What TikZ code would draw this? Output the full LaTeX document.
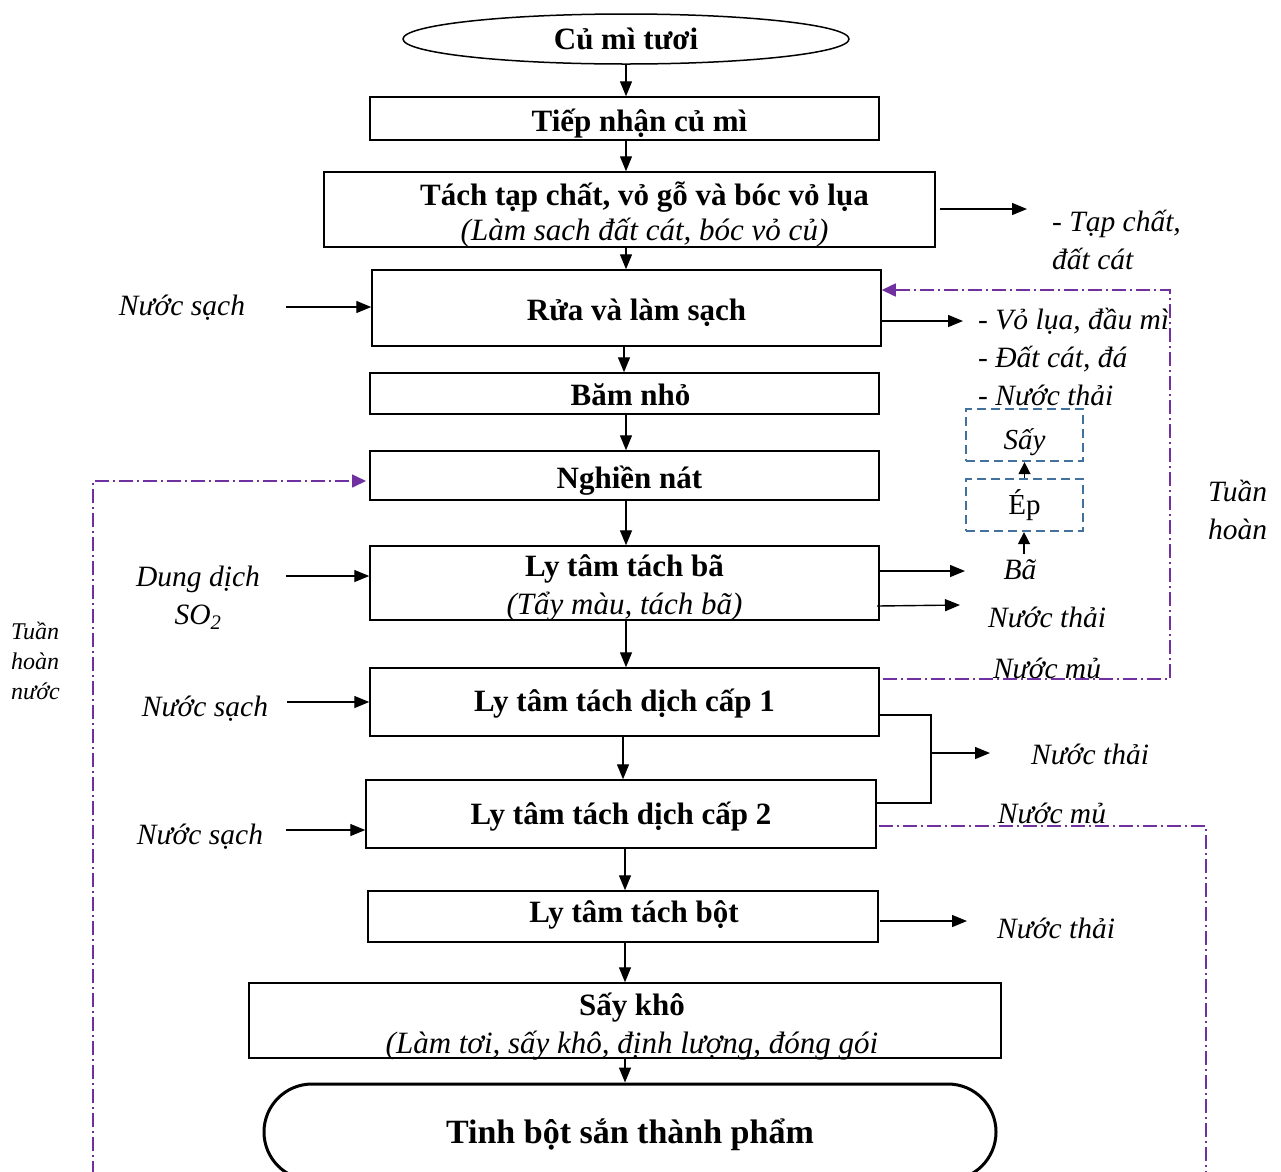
\documentclass[tikz,border=0pt]{standalone}
\usepackage{fontspec}
\setmainfont{Liberation Serif}
\usetikzlibrary{arrows.meta,shapes.geometric,calc}
\definecolor{vio}{RGB}{112,48,160}
\definecolor{dblue}{RGB}{65,113,156}
\tikzset{
  box/.style={draw, line width=1.5pt, inner sep=0pt},
  bt/.style={inner sep=0pt, align=center, font=\fontsize{31}{36}\selectfont\bfseries},
  arr/.style={line width=1.4pt, -{Triangle[length=15pt,width=12pt]}},
  sarr/.style={line width=1.4pt, -{Triangle[length=12pt,width=12pt]}},
  lbl/.style={inner sep=0pt, align=left, font=\fontsize{29.5}{38}\selectfont\itshape},
  recyc/.style={draw=vio, line width=1.6pt, dash pattern=on 14pt off 4pt on 2pt off 4pt},
  vtip/.style={-{Triangle[length=14pt,width=13pt,fill=vio]}},
  bdash/.style={draw=dblue, line width=2.2pt, dash pattern=on 9pt off 5pt, inner sep=0pt}
}
\begin{document}
\begin{tikzpicture}[x=1pt,y=-1pt]
\useasboundingbox (0,0) rectangle (1281,1171);

% main column
\node[draw, ellipse, line width=1.5pt, inner sep=0pt, minimum width=446, minimum height=50,
      font=\fontsize{31}{36}\selectfont\bfseries] (e1) at (626,39) {Củ mì tươi};
\node[box, minimum width=509, minimum height=43,
  label={[bt, xshift=15, yshift=-5]center:Tiếp nhận củ mì}] (tn) at (624.5,118.5) {};
\node[box, minimum width=611, minimum height=75,
  label={[bt, xshift=15, yshift=-5]center:Tách tạp chất, vỏ gỗ và bóc vỏ lụa\\[-1pt]{\mdseries\itshape (Làm sach đất cát, bóc vỏ củ)}}] (tach) at (629.5,209.5) {};
\node[box, minimum width=509, minimum height=76,
  label={[bt, xshift=10, yshift=-5]center:Rửa và làm sạch}] (rua) at (626.5,308) {};
\node[box, minimum width=509, minimum height=41,
  label={[bt, xshift=6, yshift=-1]center:Băm nhỏ}] (bam) at (624.5,393.5) {};
\node[box, minimum width=509, minimum height=49,
  label={[bt, xshift=5, yshift=-5]center:Nghiền nát}] (ngh) at (624.5,475.5) {};
\node[box, minimum width=509, minimum height=74,
  label={[bt, yshift=-5]center:Ly tâm tách bã\\[2pt]{\mdseries\itshape (Tẩy màu, tách bã)}}] (ba) at (624.5,583) {};
\node[box, minimum width=509, minimum height=68,
  label={[bt, yshift=-2]center:Ly tâm tách dịch cấp 1}] (c1) at (624.5,702) {};
\node[box, minimum width=510, minimum height=68,
  label={[bt, yshift=-3]center:Ly tâm tách dịch cấp 2}] (c2) at (621,814) {};
\node[box, minimum width=510, minimum height=51,
  label={[bt, xshift=11, yshift=2]center:Ly tâm tách bột}] (bot) at (623,916.5) {};
\node[box, minimum width=752, minimum height=75,
  label={[bt, xshift=7, yshift=-6]center:Sấy khô\\[2pt]{\mdseries\itshape (Làm tơi, sấy khô, định lượng, đóng gói}}] (sk) at (625,1020.5) {};
\node[draw, line width=3pt, rounded corners=48pt, inner sep=0pt, minimum width=732, minimum height=96,
      label={[inner sep=0pt, font=\fontsize{34}{40}\selectfont\bfseries, yshift=-3]center:Tinh bột sắn thành phẩm}] (fin) at (630,1132) {};

% vertical arrows
\draw[arr] (e1.south) -- (e1.south |- tn.north);
\draw[arr] (626,140) coordinate (a1) -- (a1 |- tach.north);
\draw[arr] (626,247) coordinate (a2) -- (a2 |- rua.north);
\draw[arr] (624,346) coordinate (a3) -- (a3 |- bam.north);
\draw[arr] (626,414) coordinate (a4) -- (a4 |- ngh.north);
\draw[arr] (626,500) coordinate (a5) -- (a5 |- ba.north);
\draw[arr] (626,620) coordinate (a6) -- (a6 |- c1.north);
\draw[arr] (623,736) coordinate (a7) -- (a7 |- c2.north);
\draw[arr] (625,848) coordinate (a8) -- (a8 |- bot.north);
\draw[arr] (625,942) coordinate (a9) -- (a9 |- sk.north);
\draw[arr] (625,1058) coordinate (a10) -- (a10 |- fin.north);

% left inputs
\node[lbl] (in1) at (182,308) {Nước sạch};
\coordinate (in1s) at (286,307);
\draw[arr] (in1s) -- (in1s -| rua.west);
\node[lbl, align=center] (in2) at (198,598) {Dung dịch\\SO\textsubscript{2}};
\coordinate (in2s) at (286,576);
\draw[arr] (in2s) -- (in2s -| ba.west);
\node[lbl] (in3) at (205,709) {Nước sạch};
\coordinate (in3s) at (287,702);
\draw[arr] (in3s) -- (in3s -| c1.west);
\node[lbl] (in4) at (200,837) {Nước sạch};
\coordinate (in4s) at (286,830);
\draw[arr] (in4s) -- (in4s -| c2.west);

% right outputs
\node[lbl, anchor=west] (o1) at (1052,240) {- Tạp chất,\\đất cát};
\coordinate (o1s) at (940,209); \coordinate (o1e) at (1027,209);
\draw[arr] (o1s) -- (o1e);
\node[lbl, anchor=west] (o2) at (978,357) {- Vỏ lụa, đầu mì\\- Đất cát, đá\\- Nước thải};
\coordinate (o2s) at (880,321); \coordinate (o2e) at (963,321);
\draw[arr] (o2s) -- (o2e);

\node[lbl] (bax) at (1020,570) {Bã};
\coordinate (o3s) at (880,571); \coordinate (o3e) at (965,571);
\draw[arr] (o3s) -- (o3e);
\node[lbl] (nt1) at (1047,617) {Nước thải};
\coordinate (o4s) at (877,606); \coordinate (o4e) at (960,605);
\draw[arr] (o4s) -- (o4e);

\node[bdash, minimum width=117, minimum height=52, font=\fontsize{29}{34}\selectfont] (ep) at (1024.5,505) {Ép};
\node[bdash, minimum width=117, minimum height=52,
  label={[inner sep=0pt, font=\fontsize{29}{34}\selectfont\itshape, yshift=-7]center:Sấy}] (say) at (1024.5,435) {};
\draw[sarr] (1024,554) coordinate (b1) -- (b1 |- ep.south);
\draw[sarr] (ep.north) -- (say.south);

\node[lbl] (nm1) at (1047,668) {Nước mủ};
\node[lbl] (nt2) at (1090,754) {Nước thải};
\draw[line width=1.4pt] (c1.east |- 0,715) -- (931,715) -- (931,803) -- (c2.east |- 0,803);
\coordinate (bk) at (931,753); \coordinate (bke) at (990,753);
\draw[arr] (bk) -- (bke);
\node[lbl] (nm2) at (1052,813) {Nước mủ};
\node[lbl] (nt3) at (1056,928) {Nước thải};
\coordinate (o5s) at (880,921); \coordinate (o5e) at (967,921);
\draw[arr] (o5s) -- (o5e);

\node[lbl, anchor=west] (th1) at (1208,510) {Tuần\\hoàn};
\node[inner sep=0pt, align=left, anchor=west, font=\fontsize{24}{30}\selectfont\itshape] (th2) at (11,661) {Tuần\\hoàn\\nước};

% recycle loops
\coordinate (r1) at (883,679);
\draw[recyc, vtip] (r1) -- (1170,679) -- (1170,290) -- (rua.east |- 0,290);
\coordinate (r2) at (93,1175);
\draw[recyc, vtip] (r2) -- (93,481) -- (366,481);
\coordinate (r3) at (879,826);
\draw[recyc] (r3) -- (1206,826) -- (1206,1175);
\end{tikzpicture}
\end{document}
